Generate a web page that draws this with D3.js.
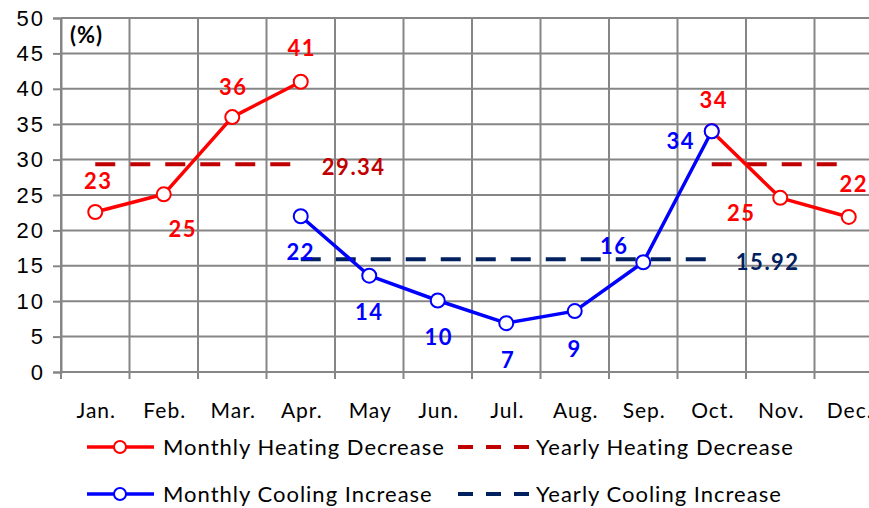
<!DOCTYPE html>
<html>
<head>
<meta charset="utf-8">
<script src="https://cdn.jsdelivr.net/npm/d3@7"></script>
<style>
  body { margin: 0; background: #fff; }
  svg { display: block; font-family: Lato, "Open Sans", sans-serif; }
</style>
</head>
<body>
<div id="chart-area"></div>
<script>
// data
const months = ["Jan.", "Feb.", "Mar.", "Apr.", "May", "Jun.", "Jul.", "Aug.", "Sep.", "Oct.", "Nov.", "Dec."]
const heating = [22.6, 25.1, 36.0, 41.0, null, null, null, null, null, 34.0, 24.6, 21.9]
const cooling = [null, null, null, 22.0, 13.6, 10.1, 6.9, 8.6, 15.5, 34.0, null, null]
const yearlyHeating = [29.34, 29.34, 29.34, 29.34, null, null, null, null, null, 29.34, 29.34, 29.34]
const yearlyCooling = [null, null, null, 15.92, 15.92, 15.92, 15.92, 15.92, 15.92, 15.92, null, null]
const yTicks = [0, 5, 10, 15, 20, 25, 30, 35, 40, 45, 50]

// label offsets (layout only)
const heatOffsets = [[2, -31], [18, 35], [0, -30], [0, -33], null, null, null, null, null, [1, -31], [-40, 15], [4, -33]]
const coolOffsets = [null, null, null, [-1, 36], [-1, 37], [0, 37], [1, 37], [-1, 38], [-30, -16], [-32, 10], null, null]

const W = 869, H = 508
const LEFT = 61, BAND = 68.5, TOP = 18, BOTTOM = 372

const RED = "#ff0000", BLUE = "#0000ff", DKRED = "#c00000", NAVY = "#002060", GRID = "#868686"

const svg = d3.select("#chart-area").append("svg")
  .attr("width", W)
  .attr("height", H)

const x = d3.scaleBand()
  .domain(months)
  .range([LEFT, LEFT + BAND * 12])
  .padding(0)

const y = d3.scaleLinear()
  .domain([0, 50])
  .range([BOTTOM, TOP])

const cx = i => x(months[i]) + x.bandwidth() / 2

// horizontal grid + y axis
const yAxis = svg.append("g")
  .attr("transform", `translate(${LEFT},0)`)
  .call(d3.axisLeft(y).tickValues(yTicks).tickSize(8).tickPadding(8)
    .tickFormat(d3.format("d")))
yAxis.select(".domain").attr("stroke", GRID).attr("stroke-width", 2)
yAxis.selectAll(".tick line").attr("stroke", GRID).attr("stroke-width", 2)
yAxis.selectAll(".tick text")
  .attr("font-size", "22px")
  .attr("letter-spacing", "2px")
  .attr("fill", "#000")

svg.append("g")
  .selectAll("line")
  .data(yTicks)
  .enter().append("line")
    .attr("x1", LEFT)
    .attr("x2", LEFT + BAND * 12)
    .attr("y1", d => y(d))
    .attr("y2", d => y(d))
    .attr("stroke", GRID)
    .attr("stroke-width", 2)

// vertical grid at category boundaries
const bounds = d3.range(13).map(i => LEFT + i * x.bandwidth())
svg.append("g")
  .selectAll("line")
  .data(bounds)
  .enter().append("line")
    .attr("x1", d => d)
    .attr("x2", d => d)
    .attr("y1", TOP)
    .attr("y2", BOTTOM + 7)
    .attr("stroke", GRID)
    .attr("stroke-width", 2)

// x labels
svg.append("g")
  .selectAll("text")
  .data(months)
  .enter().append("text")
    .attr("x", d => x(d) + x.bandwidth() / 2 + 1)
    .attr("y", 418)
    .attr("text-anchor", "middle")
    .attr("font-size", "21px")
    .attr("letter-spacing", "1px")
    .attr("fill", "#000")
    .text(d => d)

// unit
svg.append("text")
  .attr("x", 70)
  .attr("y", 43)
  .attr("font-size", "22px")
  .attr("font-weight", "bold")
  .attr("letter-spacing", "1px")
  .text("(%)")

// yearly dashed lines
const line = d3.line()
  .defined(d => d != null)
  .x((d, i) => cx(i))
  .y(d => y(d))

svg.append("path")
  .attr("d", line(yearlyHeating))
  .attr("fill", "none")
  .attr("stroke", DKRED)
  .attr("stroke-width", 4)
  .attr("stroke-dasharray", "20,15")

svg.append("path")
  .attr("d", line(yearlyCooling))
  .attr("fill", "none")
  .attr("stroke", NAVY)
  .attr("stroke-width", 4)
  .attr("stroke-dasharray", "20,15")

// monthly lines
function series(data, color) {
  svg.append("path")
    .attr("d", line(data))
    .attr("fill", "none")
    .attr("stroke", color)
    .attr("stroke-width", 3.5)
    .attr("stroke-linejoin", "round")

  svg.append("g")
    .selectAll("circle")
    .data(data.map((v, i) => ({ v, i })).filter(d => d.v != null))
    .enter().append("circle")
      .attr("cx", d => cx(d.i))
      .attr("cy", d => y(d.v))
      .attr("r", 7)
      .attr("fill", "#fff")
      .attr("stroke", color)
      .attr("stroke-width", 2)
}
series(heating, RED)
series(cooling, BLUE)

// value labels
function labels(data, offsets, color) {
  svg.append("g")
    .selectAll("text")
    .data(data.map((v, i) => ({ v, i })).filter(d => d.v != null))
    .enter().append("text")
      .attr("x", d => cx(d.i) + offsets[d.i][0] + 1)
      .attr("y", d => y(d.v) + offsets[d.i][1])
      .attr("dy", "0.35em")
      .attr("text-anchor", "middle")
      .attr("font-size", "22px")
      .attr("font-weight", "bold")
      .attr("letter-spacing", "1.5px")
      .attr("fill", color)
      .text(d => Math.round(d.v))
}
labels(heating, heatOffsets, RED)
labels(cooling, coolOffsets, BLUE)

svg.append("text")
  .attr("x", cx(3) + 53)
  .attr("y", y(yearlyHeating[0]) + 3)
  .attr("dy", "0.35em")
  .attr("text-anchor", "middle")
  .attr("font-size", "22px")
  .attr("font-weight", "bold")
  .attr("letter-spacing", "1.5px")
  .attr("fill", DKRED)
  .text(d3.format(".2f")(yearlyHeating[0]))

svg.append("text")
  .attr("x", cx(9) + 56)
  .attr("y", y(yearlyCooling[3]) + 3)
  .attr("dy", "0.35em")
  .attr("text-anchor", "middle")
  .attr("font-size", "22px")
  .attr("font-weight", "bold")
  .attr("letter-spacing", "1.5px")
  .attr("fill", NAVY)
  .text(d3.format(".2f")(yearlyCooling[3]))

// legend
const legendItems = [
  { label: "Monthly Heating Decrease", color: RED, dashed: false, lx: 87, ly: 447 },
  { label: "Yearly Heating Decrease", color: DKRED, dashed: true, lx: 458, ly: 447 },
  { label: "Monthly Cooling Increase", color: BLUE, dashed: false, lx: 87, ly: 494 },
  { label: "Yearly Cooling Increase", color: NAVY, dashed: true, lx: 458, ly: 494 }
]

const lg = svg.append("g")
  .selectAll("g")
  .data(legendItems)
  .enter().append("g")
    .attr("transform", d => `translate(${d.lx},${d.ly})`)

lg.append("line")
  .attr("x1", 0)
  .attr("x2", d => d.dashed ? 71 : 67)
  .attr("stroke", d => d.color)
  .attr("stroke-width", d => d.dashed ? 4 : 3.5)
  .attr("stroke-dasharray", d => d.dashed ? "15,13" : null)

lg.filter(d => !d.dashed).append("circle")
  .attr("cx", 33)
  .attr("r", 6)
  .attr("fill", "#fff")
  .attr("stroke", d => d.color)
  .attr("stroke-width", 2)

lg.append("text")
  .attr("x", d => d.dashed ? 78 : 76)
  .attr("dy", "0.35em")
  .attr("font-size", "22px")
  .attr("letter-spacing", "1px")
  .attr("fill", "#000")
  .text(d => d.label)
</script>
</body>
</html>
